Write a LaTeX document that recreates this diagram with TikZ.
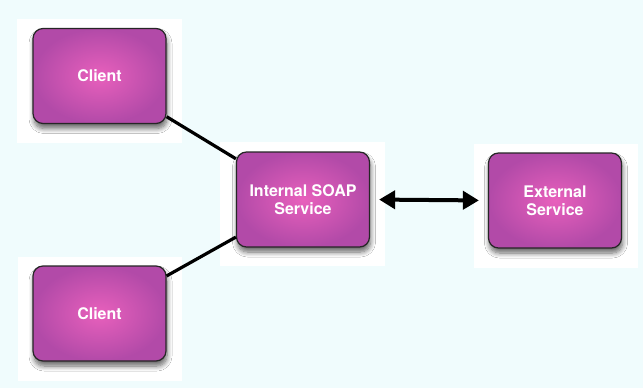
\documentclass[tikz,border=0pt]{standalone}
\usepackage{fontspec}
\setmainfont{TeX Gyre Heros}
\usetikzlibrary{shadows.blur,arrows.meta}
\definecolor{sky}{RGB}{240,252,253}
\definecolor{boxin}{RGB}{232,96,188}
\definecolor{boxout}{RGB}{178,74,168}
\tikzset{
  svc/.style={draw=black!85, line width=1.2pt, rounded corners=10pt,
    minimum width=133pt, minimum height=95pt, inner color=boxin, outer color=boxout,
    text=white, font=\fontsize{16}{18}\selectfont\bfseries, align=center,
    blur shadow={shadow xshift=1pt, shadow yshift=-5pt, shadow blur radius=5pt,
      shadow blur steps=8, shadow opacity=60}},
  link/.style={line width=3.2pt, black}
}
\begin{document}
\begin{tikzpicture}[x=1pt,y=-1pt]
\def\canvas{(0,0) rectangle (643,388)}
    \fill[sky] \canvas;
    % white backdrops
    \fill[white] (17,19) rectangle (182,143);
    \fill[white] (18,257) rectangle (182,381);
    \fill[white] (220,142) rectangle (385,266);
    \fill[white] (474,144) rectangle (638,268);
    \node[svc] (cla) at (99.5,76) {Client};
    \node[svc] (clb) at (99.5,313.5) {Client};
    \node[svc] (int) at (303,199.5) {Internal SOAP\\Service};
    \node[svc] (ext) at (555,200.5) {External\\Service};
    \draw[link] (cla) -- (int);
    \draw[link] (clb) -- (int);
    \draw[link, line width=4pt, {Triangle[width=18pt,length=16pt]}-{Triangle[width=18pt,length=16pt]},
      shorten <=9pt, shorten >=9pt] (int.east) -- (ext.west);
\end{tikzpicture}
\end{document}
